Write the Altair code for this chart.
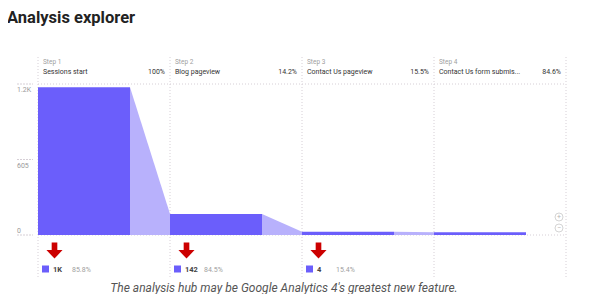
import altair as alt
import pandas as pd

# ---- data ----
title_text = "Analysis explorer"
caption_text = "The analysis hub may be Google Analytics 4's greatest new feature."
step_labels = ["Step 1", "Step 2", "Step 3", "Step 4"]
step_names = ["Sessions start", "Blog pageview", "Contact Us pageview", "Contact Us form submis..."]
step_rates = ["100%", "14.2%", "15.5%", "84.6%"]
users = [1183, 168, 26, 22]
abandon_counts = ["1K", "142", "4"]
abandon_rates = ["85.8%", "84.5%", "15.4%"]
y_ticks = [0, 605, 1210]
y_tick_labels = ["0", "605", "1.2K"]

BAR_FRAC = 92 / 132
BAR = "#6b5efb"
DROP = "#b8b1fc"
GRID = "#d6cfd6"
FONT = "Roboto"

n = len(users)
steps = pd.DataFrame({
    "start": list(range(n)),
    "end": [i + BAR_FRAC for i in range(n)],
    "nextb": [i + 1 for i in range(n)],
    "users": users,
    "zero": [0] * n,
    "label": step_labels,
    "name": step_names,
    "rate": step_rates,
})
segs = pd.DataFrame({
    "seg": [i for i in range(n - 1) for _ in (0, 1)],
    "x": [v for i in range(n - 1) for v in (i + BAR_FRAC, i + 1)],
    "users": [v for i in range(n - 1) for v in (users[i], users[i + 1])],
})
bounds = pd.DataFrame({"b": list(range(n + 1))})
hlines = pd.DataFrame({"v": [0, 1210]})
ticks = pd.DataFrame({"v": y_ticks, "lab": y_tick_labels})
aband = pd.DataFrame({
    "start": list(range(n - 1)),
    "count": abandon_counts,
    "rate": abandon_rates,
})

xs = alt.Scale(domain=[0, n], nice=False, zero=False)
ys = alt.Scale(domain=[0, 1210], nice=False)

def X(f):
    return alt.X(f, scale=xs, axis=None)

def Y(f):
    return alt.Y(f, scale=ys, axis=None)

vrules = alt.Chart(bounds).mark_rule(color=GRID, strokeDash=[1, 2], strokeWidth=1).encode(
    x=X("b:Q"), y=alt.value(-27), y2=alt.value(194))
hrules = alt.Chart(hlines).mark_rule(color=GRID, strokeDash=[1, 2], strokeWidth=1).encode(
    y=Y("v:Q"), x=alt.value(0), x2=alt.value(528))

tickrules = alt.Chart(ticks).mark_rule(color=GRID, strokeDash=[2, 1], strokeWidth=1).encode(
    y=Y("v:Q"), x=alt.value(-21), x2=alt.value(-5))
ticklab_top = alt.Chart(ticks).transform_filter("datum.v > 0").mark_text(
    font=FONT, fontSize=7, color="#9a9a9a", align="left", baseline="middle", dy=6).encode(
    y=Y("v:Q"), x=alt.value(-21), text="lab:N")
ticklab_bot = alt.Chart(ticks).transform_filter("datum.v == 0").mark_text(
    font=FONT, fontSize=7, color="#9a9a9a", align="left", baseline="middle", dy=-4).encode(
    y=Y("v:Q"), x=alt.value(-21), text="lab:N")

drops = alt.Chart(segs).mark_area(color=DROP, interpolate="linear").encode(
    x=X("x:Q"), y=alt.Y("users:Q", scale=ys, axis=None, stack=None), detail="seg:N")
bars = alt.Chart(steps).mark_rect(color=BAR).encode(
    x=X("start:Q"), x2="end:Q", y=Y("users:Q"), y2="zero:Q")

step_lab = alt.Chart(steps).mark_text(font=FONT, fontSize=6.5, color="#a0a0a0",
                                      align="left", baseline="middle", dx=5).encode(
    x=X("start:Q"), y=alt.value(-22), text="label:N")
step_name = alt.Chart(steps).mark_text(font=FONT, fontSize=7, color="#333333",
                                       align="left", baseline="middle", dx=5).encode(
    x=X("start:Q"), y=alt.value(-12.5), text="name:N")
step_rate = alt.Chart(steps).mark_text(font=FONT, fontSize=7, color="#333333",
                                       align="right", baseline="middle", dx=-5).encode(
    x=X("nextb:Q"), y=alt.value(-12.5), text="rate:N")

arrow_path = "M-0.35,-1 L0.35,-1 L0.35,-0.05 L1,-0.05 L0,1 L-1,-0.05 L-0.35,-0.05 Z"
arrows = alt.Chart(aband).mark_point(shape=arrow_path, filled=True, color="#cc0000",
                                     size=260, opacity=1, xOffset=16.5).encode(
    x=X("start:Q"), y=alt.value(166.5))
squares = alt.Chart(aband).mark_square(color=BAR, size=49, opacity=1, xOffset=7.5).encode(
    x=X("start:Q"), y=alt.value(185))
cnt = alt.Chart(aband).mark_text(font=FONT, fontSize=7.5, fontWeight="bold", color="#444444",
                                 align="left", baseline="middle", dx=15).encode(
    x=X("start:Q"), y=alt.value(185.5), text="count:N")
rate = alt.Chart(aband).mark_text(font=FONT, fontSize=7, color="#a0a0a0",
                                  align="left", baseline="middle", dx=34).encode(
    x=X("start:Q"), y=alt.value(185.5), text="rate:N")

one = pd.DataFrame({"t": [title_text], "c": [caption_text], "p": ["+"], "m": ["\u2212"]})
zoom_c1 = alt.Chart(one).mark_point(shape="circle", size=64, color="#b5b5b5",
                                    strokeWidth=0.8, filled=False).encode(
    x=alt.value(521), y=alt.value(133))
zoom_c2 = alt.Chart(one).mark_point(shape="circle", size=64, color="#b5b5b5",
                                    strokeWidth=0.8, filled=False).encode(
    x=alt.value(521), y=alt.value(144))
zoom_t1 = alt.Chart(one).mark_text(font=FONT, fontSize=7, color="#b5b5b5", align="center",
                                   baseline="middle").encode(
    x=alt.value(521), y=alt.value(133), text="p:N")
zoom_t2 = alt.Chart(one).mark_text(font=FONT, fontSize=7, color="#b5b5b5", align="center",
                                   baseline="middle").encode(
    x=alt.value(521), y=alt.value(144), text="m:N")

title = alt.Chart(one).mark_text(
    font=FONT, fontSize=16.5, fontWeight="bold", color="#222222", align="left",
    baseline="alphabetic").encode(x=alt.value(-31), y=alt.value(-61.5), text="t:N")
caption = alt.Chart(one).mark_text(
    font=FONT, fontSize=12, fontStyle="italic", color="#555555", align="center",
    baseline="middle").encode(x=alt.value(246), y=alt.value(204), text="c:N")

chart = alt.layer(
    vrules, hrules, tickrules, ticklab_top, ticklab_bot, drops, bars,
    step_lab, step_name, step_rate, arrows, squares, cnt, rate,
    zoom_c1, zoom_c2, zoom_t1, zoom_t2, title, caption,
).properties(
    width=528, height=151,
    padding={"left": 30, "top": 76, "right": 30, "bottom": 59},
    autosize=alt.AutoSizeParams(type="none"),
    background="white",
).configure_view(stroke=None)

chart.save("out.html", embed_options={"renderer": "svg", "actions": False})
